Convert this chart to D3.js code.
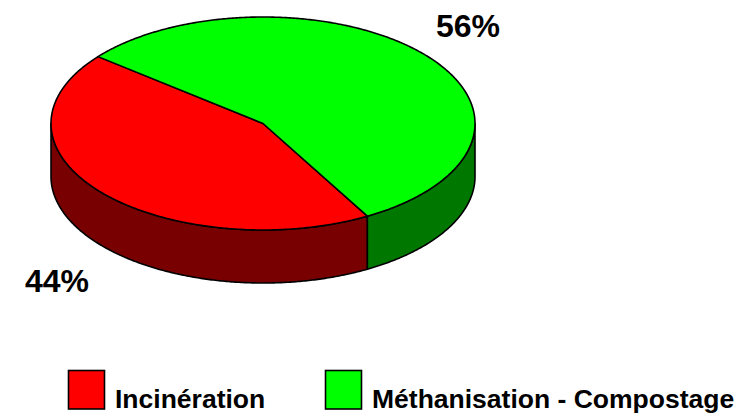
<!DOCTYPE html>
<html>
<head>
<meta charset="utf-8">
<script src="https://cdn.jsdelivr.net/npm/d3@7"></script>
<style>
  html, body { margin: 0; padding: 0; background: #fff; }
  svg { display: block; }
  text { font-family: Arial, "Liberation Sans", Helvetica, sans-serif; font-weight: bold; fill: #000; }
</style>
</head>
<body>
<svg id="chart" width="747" height="413"></svg>
<script>
// ---- data ----
const categories = ["Incinération", "Méthanisation - Compostage"];
const values = [44, 56];
const valueLabels = ["44%", "56%"];
const topColors = ["#FF0000", "#00FF00"];
const sideColors = ["#780000", "#007800"];

// ---- layout ----
const W = 747, H = 413;
const cx = 263, cy = 123.5, rx = 212, ry = 106.5, depth = 53;
const startDeg = 150.5;
const toRad = Math.PI / 180;

const svg = d3.select("#chart");

const pie = d3.pie().sort(null).value(d => d.value)
  .startAngle(startDeg * toRad).endAngle((startDeg + 360) * toRad);
const data = categories.map((c, i) => ({ cat: c, value: values[i], label: valueLabels[i], top: topColors[i], side: sideColors[i] }));
const arcs = pie(data);

const px = a => cx + rx * Math.sin(a);
const py = (a, dz = 0) => cy - ry * Math.cos(a) + dz;

function sample(a0, a1) {
  const n = Math.max(2, Math.ceil(Math.abs(a1 - a0) / (0.5 * toRad)));
  return d3.range(n + 1).map(k => a0 + (a1 - a0) * k / n);
}
const line = d3.line().x(d => d[0]).y(d => d[1]);

// side walls (front half: angles between 90° and 270°, mod 360)
const gSide = svg.append("g");
arcs.forEach(d => {
  // check intervals shifted by multiples of 2π
  [-2, -1, 0, 1, 2].forEach(k => {
    const lo = Math.max(d.startAngle, Math.PI / 2 + k * 2 * Math.PI);
    const hi = Math.min(d.endAngle, 3 * Math.PI / 2 + k * 2 * Math.PI);
    if (hi > lo) {
      const angs = sample(lo, hi);
      const pts = angs.map(a => [px(a), py(a)])
        .concat(angs.slice().reverse().map(a => [px(a), py(a, depth)]));
      gSide.append("path")
        .attr("d", line(pts) + "Z")
        .attr("fill", d.data.side)
        .attr("stroke", "#000")
        .attr("stroke-width", 1.6)
        .attr("stroke-linejoin", "round");
    }
  });
});

// top faces
const gTop = svg.append("g");
arcs.forEach(d => {
  const angs = sample(d.startAngle, d.endAngle);
  const pts = [[cx, cy]].concat(angs.map(a => [px(a), py(a)]));
  gTop.append("path")
    .attr("d", line(pts) + "Z")
    .attr("fill", d.data.top)
    .attr("stroke", "#000")
    .attr("stroke-width", 1.6)
    .attr("stroke-linejoin", "round");
});

// value labels
const labelPos = [[57, 292], [468, 37]];
svg.append("g").selectAll("text").data(arcs).join("text")
  .attr("x", (d, i) => labelPos[i][0])
  .attr("y", (d, i) => labelPos[i][1])
  .attr("text-anchor", "middle")
  .attr("font-size", 32)
  .text(d => d.data.label);

// legend
const legendX = [68, 325];
const leg = svg.append("g").selectAll("g").data(data).join("g")
  .attr("transform", (d, i) => `translate(${legendX[i]},370)`);
leg.append("rect")
  .attr("x", 0.5).attr("y", 0.5)
  .attr("width", 36).attr("height", 38.5)
  .attr("fill", d => d.top)
  .attr("stroke", "#000")
  .attr("stroke-width", 1.6);
leg.append("text")
  .attr("x", 47)
  .attr("y", 38)
  .attr("font-size", 26.5)
  .text(d => d.cat);
</script>
</body>
</html>
